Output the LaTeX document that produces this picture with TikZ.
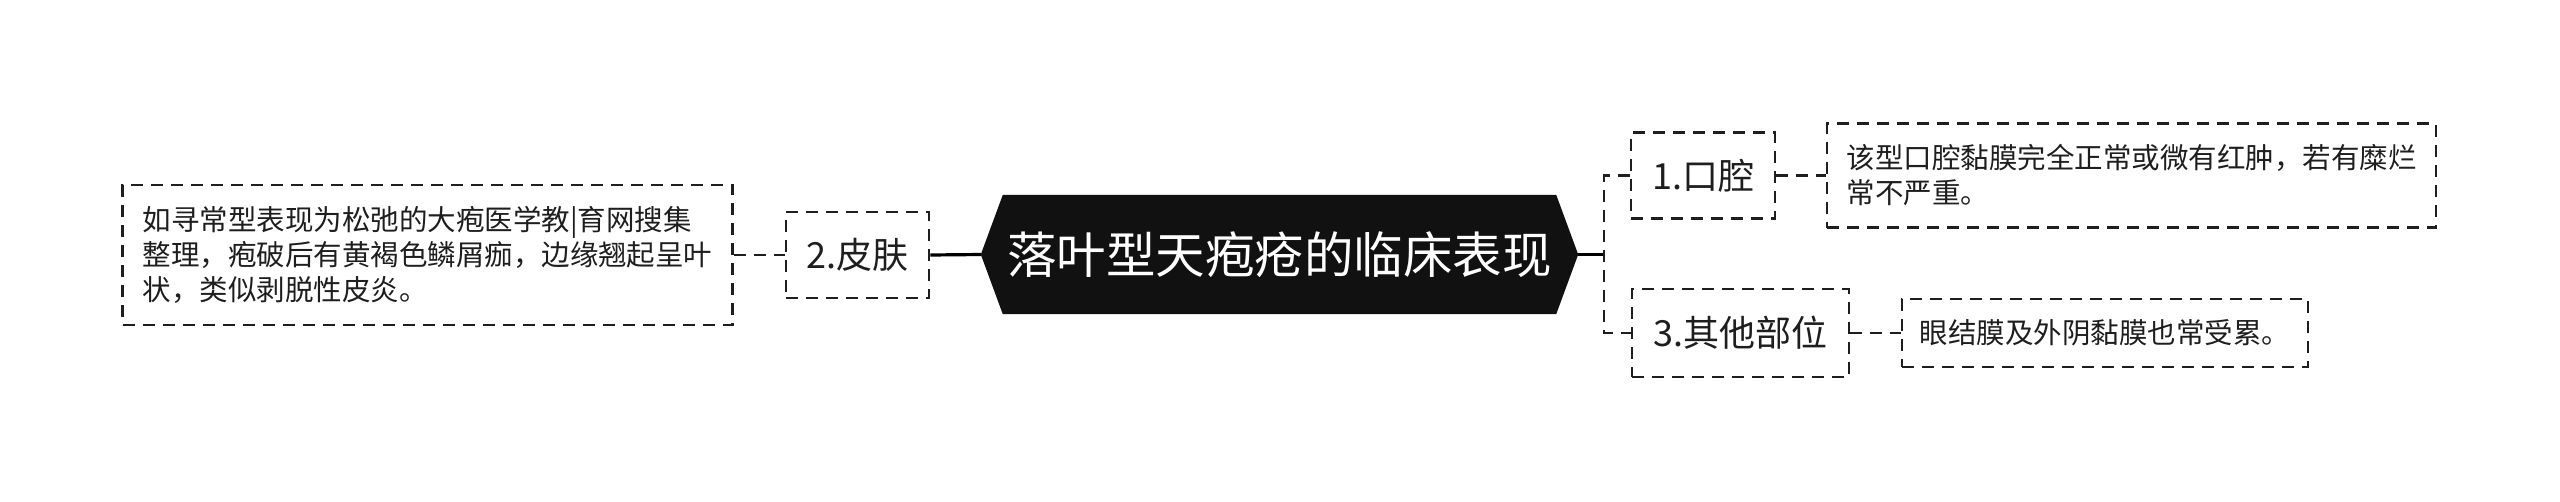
\documentclass[tikz,border=0pt]{standalone}
\usepackage{fontspec}
\setmainfont{Noto Sans CJK SC}
\usetikzlibrary{backgrounds}
\definecolor{ink}{HTML}{1E1E1E}
\definecolor{rootfill}{HTML}{111111}
\tikzset{
  dashbox/.style={draw=ink, line width=2.6pt, dash pattern=on 12pt off 8pt, inner sep=0pt, text=ink},
  topicbox/.style={dashbox, minimum height=86pt, font=\fontsize{36}{40}\selectfont},
  descbox/.style={dashbox, align=left, font=\fontsize{28.5}{35}\selectfont},
  solidlink/.style={draw=black, line width=3.2pt},
  dashlink/.style={draw=ink, line width=2.6pt, dash pattern=on 12pt off 8pt},
}
\begin{document}
\begin{tikzpicture}[x=1pt,y=-1pt]
\useasboundingbox (0,0) rectangle (2560,501);
% central node
\node[inner sep=0pt, minimum width=553pt, minimum height=119pt, text=white,
      font=\fontsize{49.5}{55}\selectfont] (root) at (1279.5,254.5) {落叶型天疱疮的临床表现};
\coordinate (rootL) at ([xshift=-22pt]root.west);
\coordinate (rootR) at ([xshift=22pt]root.east);
\begin{scope}[on background layer]
  \fill[rootfill] (rootL) -- (root.north west) -- (root.north east) -- (rootR)
      -- (root.south east) -- (root.south west) -- cycle;
\end{scope}
% topics
\node[topicbox, minimum width=143pt] (skin) at (857.5,255) {2.皮肤};
\node[topicbox, minimum width=144pt] (oral) at (1703,175.5) {1.口腔};
\node[topicbox, minimum width=217pt, minimum height=88pt] (other) at (1740.5,333) {3.其他部位};
% descriptions
\node[descbox, minimum width=610pt, minimum height=140pt] (skind) at (427.5,255)
  {如寻常型表现为松弛的大疱医学教|育网搜集\\整理，疱破后有黄褐色鳞屑痂，边缘翘起呈叶\\状，类似剥脱性皮炎。};
\node[descbox, minimum width=609pt, minimum height=104pt] (orald) at (2131.5,175.5)
  {该型口腔黏膜完全正常或微有红肿，若有糜烂\\常不严重。};
\node[descbox, minimum width=406pt, minimum height=68pt] (otherd) at (2105,333)
  {眼结膜及外阴黏膜也常受累。};
% connectors
\coordinate (br) at (1604,254.5);
\draw[solidlink] (skin.east) -- (rootL);
\draw[solidlink] (rootR) -- (br);
\draw[dashlink] (oral.west) -- (oral.west -| br) -- (other.west -| br) -- (other.west);
\draw[dashlink] (skind.east) -- (skin.west);
\draw[dashlink] (oral.east) -- (orald.west);
\draw[dashlink] (other.east) -- (otherd.west);
\end{tikzpicture}
\end{document}
